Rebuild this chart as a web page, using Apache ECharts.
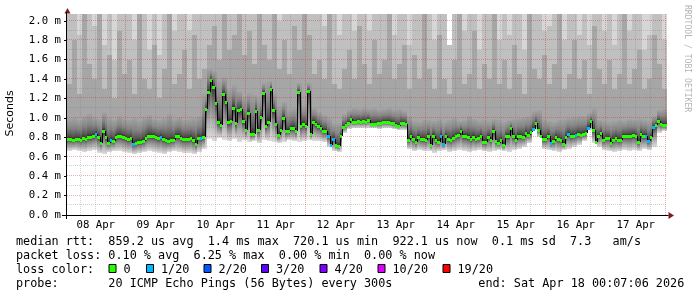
<!DOCTYPE html>
<html><head><meta charset="utf-8">
<script src="https://cdn.jsdelivr.net/npm/echarts@6/dist/echarts.min.js"></script>
<style>html,body{margin:0;padding:0;background:#fff}#c{width:697px;height:297px}</style>
</head><body><div id="c"></div>
<script>
// ---- data ----
const dayLabels = ['08 Apr','09 Apr','10 Apr','11 Apr','12 Apr','13 Apr','14 Apr','15 Apr','16 Apr','17 Apr'];
const yTicks = [0,0.2,0.4,0.6,0.8,1.0,1.2,1.4,1.6,1.8,2.0];
// hourly median rtt (ms), starting 08 Apr 00:30
const median = [
 .78,.78,.77,.78,.78,.77,.79,.78,.80,.80,.81,.835,.80,.745,.87,.80,.74,.775,.76,.80,.81,.81,.80,.79,
 .78,.79,.73,.74,.755,.755,.76,.79,.81,.81,.815,.80,.795,.80,.78,.77,.765,.77,.77,.81,.815,.79,.78,.78,
 .78,.79,.77,.73,.79,.79,.80,1.09,1.27,1.39,1.32,1.15,.96,.93,1.25,1.165,.955,.97,1.10,.945,1.08,1.095,.97,.875,
 1.05,.83,.835,1.075,.875,1.01,1.26,.92,.96,1.295,1.08,.94,.82,.88,1.00,.86,.86,.895,.895,.86,1.265,.92,.935,.92,
 1.28,.835,.955,.94,.92,.90,.86,.86,.815,.72,.78,.72,.71,.815,.91,.93,.945,.985,.955,.96,.97,.96,.97,.96,
 .98,.94,.94,.94,.945,.95,.955,.955,.955,.95,.945,.93,.92,.945,.945,.94,.77,.815,.78,.755,.80,.785,.78,.77,
 .815,.72,.815,.77,.755,.81,.73,.815,.785,.77,.79,.815,.825,.87,.81,.815,.80,.78,.80,.78,.79,.815,.755,.755,
 .80,.77,.86,.765,.74,.77,.72,.815,.815,.895,.81,.77,.81,.815,.80,.84,.825,.85,.885,.95,.875,.815,.78,.78,
 .81,.745,.765,.80,.78,.77,.73,.80,.835,.81,.815,.825,.835,.825,.835,.84,.895,.97,.875,.755,.81,.84,.77,.79,
 .79,.745,.77,.79,.77,.77,.81,.81,.815,.81,.825,.81,.755,.835,.815,.815,.765,.80,.91,.93,.97,.94,.93,.93
];
// hourly loss level index (0 = 0/20, 1 = 1/20 ...)
const loss = [
 0,0,0,0,0,0,0,0,0,0,0,1,0,0,0,0,0,1,0,0,0,0,0,0,
 0,0,1,0,0,0,0,0,0,0,0,0,0,1,0,0,0,0,0,0,0,0,0,0,
 0,0,0,0,0,1,0,0,0,0,0,0,0,0,0,0,0,0,0,0,0,0,0,0,
 0,0,0,0,0,0,0,0,0,0,0,0,0,0,0,0,0,0,0,0,0,0,0,0,
 0,0,0,0,0,0,0,0,1,1,1,0,0,0,0,0,0,0,0,0,0,0,0,0,
 0,0,0,0,0,0,0,0,0,0,0,0,0,0,0,0,0,0,0,0,0,0,0,0,
 0,0,0,0,0,1,1,0,0,0,0,0,0,0,0,0,0,0,0,0,0,0,0,0,
 0,0,0,0,0,0,0,0,0,0,0,0,0,0,0,0,0,0,1,0,0,0,0,0,
 0,1,0,0,0,0,0,0,1,0,0,1,0,0,0,0,1,0,0,0,0,0,0,0,
 0,0,0,0,0,0,0,0,0,0,0,0,0,0,0,1,1,0,1,0,0,0,0,0
];
// smoke (ping spread) per 2-hour column, ms
const smokeMin = [
 .66,.67,.66,.65,.66,.67,.64,.63,.65,.66,.66,.65,
 .64,.63,.64,.65,.66,.65,.64,.63,.65,.66,.65,.64,
 .64,.63,.65,.68,.78,.76,.79,.77,.76,.78,.75,.77,
 .75,.76,.74,.77,.76,.75,.74,.75,.77,.76,.75,.76,
 .77,.76,.76,.75,.70,.66,.65,.84,.89,.90,.90,.90,
 .90,.90,.89,.90,.90,.89,.88,.88,.68,.66,.67,.66,
 .66,.64,.66,.67,.65,.66,.67,.66,.65,.66,.67,.66,
 .65,.66,.67,.66,.65,.67,.68,.70,.74,.88,.80,.68,
 .67,.66,.65,.67,.68,.70,.72,.76,.88,.74,.70,.67,
 .66,.65,.66,.67,.66,.67,.66,.68,.67,.70,.84,.86
];
const smokeQ3 = [
 .99,1.00,.98,1.02,1.04,1.01,.99,1.06,1.00,.98,1.02,.99,
 .98,1.00,.97,1.01,1.03,.99,.98,1.00,1.04,.99,1.01,.98,
 .99,1.00,1.02,1.25,1.50,1.48,1.38,1.42,1.30,1.34,1.28,1.22,
 1.26,1.24,1.20,1.36,1.38,1.26,1.12,1.16,1.08,1.10,1.36,1.12,
 1.36,1.10,1.06,1.03,1.00,.94,.95,1.04,1.08,1.10,1.09,1.10,
 1.09,1.10,1.08,1.09,1.10,1.08,1.09,1.07,1.02,.97,.96,.98,
 .98,.97,.99,.96,.98,1.00,.97,.98,1.02,.99,.97,.98,
 .97,.99,.98,.96,.98,.99,1.00,1.01,1.02,1.07,1.08,.99,
 .97,.96,.98,.99,1.00,1.01,1.02,1.02,1.05,1.10,.98,.97,
 .96,.97,.98,.97,.99,.98,.99,.98,.97,1.02,1.08,1.09
];
const smokeMid = [
 1.35,1.80,1.25,2.20,1.55,1.40,2.20,1.30,1.65,1.20,1.90,1.45,
 1.60,1.25,2.20,1.40,1.30,1.75,1.20,1.50,2.20,1.35,1.45,1.70,
 1.30,1.85,1.40,1.50,1.75,1.95,1.60,2.20,1.70,1.85,2.20,1.65,
 1.90,1.55,2.20,1.75,1.60,2.20,1.50,1.80,1.45,1.95,1.70,2.20,
 1.85,1.45,1.60,1.40,2.20,1.35,1.30,1.50,1.70,1.40,1.95,1.55,
 1.35,1.80,1.45,1.60,2.20,1.40,1.55,1.75,1.30,1.65,1.40,2.20,
 1.50,1.30,1.85,1.40,1.25,1.60,2.20,1.35,1.45,1.90,1.30,1.55,
 1.40,2.20,1.35,1.60,1.30,1.75,1.45,1.25,2.20,1.50,1.40,1.65,
 1.35,1.55,2.20,1.30,1.45,1.80,1.40,1.60,1.25,1.95,1.50,1.35,
 1.60,1.30,1.45,2.20,1.35,1.50,1.70,1.30,1.40,1.85,1.55,1.30
];
const smokeHi = [
 2.20,2.20,1.85,2.20,2.20,1.95,2.20,1.75,2.20,1.60,2.20,2.20,
 2.20,1.80,2.20,2.20,1.70,2.20,1.65,2.20,2.20,1.90,2.20,2.20,
 1.90,2.20,2.20,2.20,2.20,2.20,2.20,2.20,2.20,2.20,2.20,2.20,
 2.20,2.20,2.20,2.20,2.20,2.20,2.00,2.20,2.20,2.20,2.20,2.20,
 2.20,2.20,2.20,1.95,2.20,2.20,1.85,2.20,2.20,1.90,2.20,2.20,
 1.90,2.20,2.20,2.20,2.20,1.85,2.20,2.20,1.75,2.20,2.20,2.20,
 2.20,1.80,2.20,2.20,1.75,2.20,2.20,1.90,2.20,2.20,1.70,2.20,
 2.20,2.20,1.80,2.20,1.85,2.20,2.20,1.70,2.20,2.20,2.20,1.90,
 1.95,2.20,2.20,1.80,2.20,2.20,1.85,2.20,1.75,2.20,2.20,1.90,
 2.20,1.75,2.20,2.20,1.90,2.20,2.20,1.70,1.85,2.20,2.20,1.80
];
const smokeMax = [
 2.30,2.30,2.30,2.30,2.30,2.30,2.30,2.30,1.89,2.30,2.30,2.30,
 2.30,2.30,2.30,2.30,2.30,2.30,2.30,2.30,2.30,2.30,1.82,2.30,
 2.30,2.30,2.30,2.30,2.30,2.30,2.30,2.30,2.30,2.30,2.30,2.30,
 2.30,2.30,2.30,2.30,2.30,2.30,2.30,2.30,2.30,2.30,2.30,2.30,
 2.30,2.30,2.30,2.30,2.30,2.30,2.30,2.30,2.30,2.30,2.30,2.30,
 2.30,2.30,2.30,2.30,2.30,2.30,2.30,2.30,2.30,2.30,2.30,2.30,
 2.30,2.30,2.30,2.30,1.73,2.30,2.30,2.30,2.30,2.30,2.30,2.30,
 2.30,2.30,2.30,2.30,2.30,2.30,2.30,2.30,2.30,2.30,2.30,2.30,
 2.30,2.30,2.30,2.30,2.30,2.30,2.30,2.30,2.30,2.30,2.30,2.30,
 2.30,2.30,2.30,2.30,2.30,2.30,2.30,2.30,2.30,2.30,2.30,2.30
];
const lossLabels = ['0','1/20','2/20','3/20','4/20','10/20','19/20'];
const lossColors = ['#26ff00','#00b8ff','#0059ff','#5e00ff','#7e00ff','#dd00ff','#ff0000'];
const statsLine = 'median rtt:  859.2 us avg  1.4 ms max  720.1 us min  922.1 us now  0.1 ms sd  7.3   am/s';
const lossLine  = 'packet loss: 0.10 % avg  6.25 % max  0.00 % min  0.00 % now';
const probeLine = 'probe:       20 ICMP Echo Pings (56 Bytes) every 300s';
const endText   = 'end: Sat Apr 18 00:07:06 2026';

// ---- chart ----
const Y_MAX = 2.07;
const MONO = '"DejaVu Sans Mono", monospace';
const chart = echarts.init(document.getElementById('c'), null, {renderer: 'canvas'});

const smokeData = median.map((m, i) => {
  const j = Math.floor(i / 2);
  return [i + 0.5, m, smokeMin[j], smokeQ3[j], smokeMid[j], smokeHi[j], smokeMax[j]];
});
const medianData = median.map((m, i) => [i + 0.5, m, loss[i]]);

const gridData = [];
for (let h = 6; h <= 240; h += 6) gridData.push([h, 0, h % 24 === 0 ? 0 : 1]);
for (let k = 1; k <= 20; k++) gridData.push([1, k / 10, k % 2 === 0 ? 2 : 3]);

const gradUp = {type:'linear', x:0, y:0, x2:0, y2:1, colorStops:[{offset:0,color:'#a2a2a2'},{offset:0.45,color:'#868686'},{offset:0.8,color:'#585858'},{offset:1,color:'#2a2a2a'}]};
const gradDown = {type:'linear', x:0, y:0, x2:0, y2:1, colorStops:[{offset:0,color:'#333333'},{offset:0.3,color:'#7a7a7a'},{offset:0.7,color:'#b4b4b4'},{offset:1,color:'#dedede'}]};

function renderSmoke(params, api) {
  const h = api.value(0);
  const x0 = Math.round(api.coord([h, 0])[0]);
  const x1 = Math.round(api.coord([h + 1, 0])[0]);
  const Y = v => Math.round(api.coord([h, Math.min(v, Y_MAX)])[1]);
  const med = api.value(1), mn = api.value(2), q3 = api.value(3), mid = api.value(4), hi = api.value(5), mx = api.value(6);
  const band = (lo, top, fill) => {
    const ya = Y(top), yb = Y(lo);
    if (yb - ya <= 0) return null;
    return {type:'rect', shape:{x:x0, y:ya, width:x1 - x0, height:yb - ya}, style:{fill}};
  };
  const children = [
    band(Math.max(hi, mn), mx, '#d6d6d6'),
    band(Math.max(mid, mn), hi, '#c0c0c0'),
    band(Math.max(q3, med), mid, '#a6a6a6'),
    band(med, q3, gradUp),
    band(mn, med, gradDown)
  ].filter(Boolean);
  return {type:'group', children};
}

function renderMedian(params, api) {
  const i = params.dataIndex;
  const h = api.value(0), v = api.value(1), lv = api.value(2);
  const x0 = Math.round(api.coord([h, 0])[0]);
  const x1 = Math.round(api.coord([h + 1, 0])[0]);
  const y = Math.round(api.coord([h, v])[1]);
  const children = [];
  if (i > 0) {
    const yp = Math.round(api.coord([h, median[i - 1]])[1]);
    if (yp !== y) children.push({type:'line', shape:{x1:x0 + 0.5, y1:yp, x2:x0 + 0.5, y2:y}, style:{stroke:'#000', lineWidth:1}});
  }
  children.push({type:'rect', shape:{x:x0, y:y - 1, width:x1 - x0, height:3}, style:{fill:lossColors[lv]}});
  return {type:'group', children};
}

function renderGrid(params, api) {
  const cs = params.coordSys;
  const kind = api.value(2);
  const major = kind === 0 || kind === 2;
  const style = {stroke: major ? 'rgba(205,40,40,0.38)' : 'rgba(120,120,120,0.32)', lineWidth:1, lineDash:[1,1]};
  if (kind < 2) {
    const x = Math.round(api.coord([api.value(0), 0])[0]) - 0.5;
    return {type:'line', shape:{x1:x, y1:cs.y, x2:x, y2:cs.y + cs.height}, style};
  }
  const y = Math.round(api.coord([1, api.value(1)])[1]) - 0.5;
  return {type:'line', shape:{x1:cs.x, y1:y, x2:cs.x + cs.width, y2:y}, style};
}

const textEls = [
  {type:'text', x:10.5, y:113.5, rotation:Math.PI/2, style:{text:'Seconds', font:'11px "DejaVu Sans", sans-serif', fill:'#000', textAlign:'center', textVerticalAlign:'middle'}},
  {type:'text', x:687.5, y:5, rotation:-Math.PI/2, style:{text:'RRDTOOL / TOBI OETIKER', font:'8.1px ' + MONO, fill:'#b4b4b4', textAlign:'left', textVerticalAlign:'middle'}},
  {type:'text', x:16, y:241.5, style:{text:statsLine, font:'11.8px ' + MONO, fill:'#000', textVerticalAlign:'middle'}},
  {type:'text', x:16, y:255.5, style:{text:lossLine, font:'11.8px ' + MONO, fill:'#000', textVerticalAlign:'middle'}},
  {type:'text', x:16, y:269.5, style:{text:'loss color:', font:'11.8px ' + MONO, fill:'#000', textVerticalAlign:'middle'}},
  {type:'text', x:16, y:283.8, style:{text:probeLine, font:'11.8px ' + MONO, fill:'#000', textVerticalAlign:'middle'}},
  {type:'text', x:478.3, y:283.8, style:{text:endText, font:'11.8px ' + MONO, fill:'#000', textVerticalAlign:'middle'}},
  // axis arrows and axis lines
  {type:'polygon', shape:{points:[[64.5,13.5],[70.5,13.5],[67.5,8]]}, style:{fill:'#7f1a1a'}},
  {type:'polygon', shape:{points:[[668.5,212],[668.5,219],[674,215.5]]}, style:{fill:'#7f1a1a'}},
  {type:'line', shape:{x1:62, y1:215.5, x2:668.5, y2:215.5}, style:{stroke:'#000', lineWidth:1}},
  {type:'line', shape:{x1:66.5, y1:219, x2:66.5, y2:12}, style:{stroke:'#000', lineWidth:1}}
];
const boxX = [108.5, 146, 203.5, 261, 319.5, 377.5, 442.5];
lossLabels.forEach((lab, k) => {
  textEls.push({type:'rect', shape:{x:boxX[k] + 0.5, y:264.5, width:7, height:8}, style:{fill:lossColors[k], stroke:'#000', lineWidth:1}});
  textEls.push({type:'text', x:boxX[k] + 15, y:269.5, style:{text:lab, font:'11.8px ' + MONO, fill:'#000', textVerticalAlign:'middle'}});
});

chart.setOption({
  animation: false,
  backgroundColor: '#ffffff',
  grid: {left: 67, right: 30, top: 14, bottom: 82, containLabel: false},
  xAxis: {
    type: 'value', min: 0.5, max: 240.5,
    axisLine: {show: false},
    axisTick: {show: false},
    splitLine: {show: false},
    axisLabel: {
      customValues: dayLabels.map((_, k) => 12 + 24 * k),
      formatter: v => dayLabels[Math.round((v - 12) / 24)],
      fontFamily: MONO, fontSize: 10.7, color: '#000', margin: 5
    }
  },
  yAxis: {
    type: 'value', min: 0, max: Y_MAX,
    axisLine: {show: false},
    axisTick: {show: true, customValues: yTicks, length: 3, lineStyle: {color: '#000'}},
    splitLine: {show: false},
    axisLabel: {
      customValues: yTicks,
      formatter: v => v.toFixed(1) + ' m',
      fontFamily: MONO, fontSize: 10.7, color: '#000', margin: 6
    }
  },
  series: [
    {type: 'custom', name: 'smoke', renderItem: renderSmoke, data: smokeData, z: 1, silent: true},
    {type: 'custom', name: 'grid', renderItem: renderGrid, data: gridData, z: 2, silent: true},
    {type: 'custom', name: 'median', renderItem: renderMedian, data: medianData, z: 3, silent: true}
  ],
  graphic: textEls
});
</script>
</body></html>
